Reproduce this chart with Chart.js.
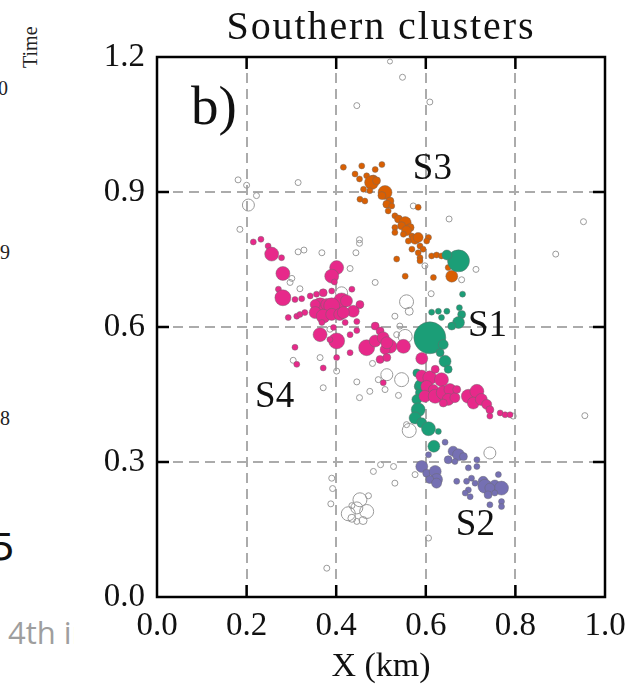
<!DOCTYPE html>
<html lang="en">
<head>
  <meta charset="UTF-8">
  <title>Southern clusters</title>
  <style>
    body {
      margin: 0;
      background: #ffffff;
    }
    #wrap {
      position: relative;
      width: 633px;
      height: 689px;
      overflow: hidden;
    }
    #chart {
      position: absolute;
      left: 0;
      top: 0;
    }
    /* cut-off bits of the neighbouring panels */
    .frag {
      position: absolute;
      font-family: "Liberation Serif", serif;
      color: #222;
      white-space: nowrap;
      line-height: 1;
    }
    .small { font-size: 20px; }
    .time {
      left: 20px;
      top: 68px;
      transform: rotate(-90deg);
      transform-origin: left top;
    }
    .big5 {
      left: -9px;
      top: 528px;
      font-family: "DejaVu Sans", sans-serif;
      font-size: 38px;
      color: #111;
    }
    .clip {
      position: absolute;
      left: 8px;
      top: 614px;
      width: 66px;
      overflow: hidden;
      white-space: nowrap;
      font-family: "Open Sans", sans-serif;
      font-size: 31px;
      line-height: 1.2;
      color: #9e9e9e;
    }
  </style>
  <script src="https://cdn.jsdelivr.net/npm/chart.js"></script>
</head>
<body>
  <div id="wrap">
    <span class="frag small time">Time</span>
    <span class="frag small" style="left:-2px;top:78px;">0</span>
    <span class="frag small" style="left:0px;top:242px;">9</span>
    <span class="frag small" style="left:0px;top:408px;">8</span>
    <span class="frag big5">5</span>
    <div class="clip">4th in</div>
    <canvas id="chart" width="633" height="689"></canvas>
  </div>

  <script>
    const xTicks = [0.0, 0.2, 0.4, 0.6, 0.8, 1.0];
    const yTicks = [0.0, 0.3, 0.6, 0.9, 1.2];

    // [x km, y km, size]
    const s1 = [
      [0.673, 0.747, 11], [0.647, 0.760, 5], [0.682, 0.673, 3], [0.675, 0.643, 3],
      [0.613, 0.633, 3], [0.628, 0.635, 3], [0.647, 0.635, 3], [0.635, 0.621, 3],
      [0.680, 0.628, 4], [0.673, 0.610, 6], [0.658, 0.602, 4], [0.609, 0.576, 16],
      [0.639, 0.561, 5], [0.632, 0.543, 4], [0.643, 0.524, 6], [0.650, 0.506, 4],
      [0.580, 0.498, 4], [0.583, 0.468, 4], [0.588, 0.454, 5], [0.580, 0.439, 5],
      [0.583, 0.416, 7], [0.576, 0.398, 6], [0.591, 0.387, 5], [0.606, 0.374, 7],
      [0.628, 0.368, 3], [0.618, 0.335, 6], [0.587, 0.472, 5]
    ];

    const s2 = [
      [0.643, 0.344, 3], [0.606, 0.316, 3], [0.661, 0.324, 5], [0.673, 0.316, 6],
      [0.684, 0.312, 4], [0.650, 0.305, 4], [0.665, 0.301, 3], [0.714, 0.305, 3],
      [0.714, 0.290, 3], [0.695, 0.287, 3], [0.591, 0.290, 6], [0.602, 0.275, 4],
      [0.621, 0.279, 6], [0.624, 0.261, 6], [0.609, 0.261, 4], [0.624, 0.253, 5],
      [0.702, 0.264, 3], [0.669, 0.257, 3], [0.691, 0.257, 3], [0.710, 0.253, 3],
      [0.728, 0.257, 5], [0.732, 0.246, 7], [0.754, 0.249, 5], [0.769, 0.242, 7],
      [0.762, 0.272, 3], [0.743, 0.242, 5], [0.739, 0.227, 4], [0.754, 0.231, 3],
      [0.695, 0.238, 3], [0.688, 0.231, 3], [0.699, 0.223, 3], [0.769, 0.212, 3],
      [0.743, 0.205, 3], [0.769, 0.201, 3]
    ];

    const s3 = [
      [0.416, 0.955, 3], [0.457, 0.958, 3], [0.502, 0.961, 3], [0.442, 0.940, 3],
      [0.468, 0.936, 3], [0.487, 0.950, 3], [0.452, 0.929, 3], [0.483, 0.929, 4],
      [0.479, 0.921, 7], [0.490, 0.925, 4], [0.461, 0.906, 3], [0.475, 0.903, 3],
      [0.509, 0.899, 7], [0.502, 0.892, 4], [0.453, 0.884, 3], [0.464, 0.880, 3],
      [0.520, 0.880, 4], [0.513, 0.873, 4], [0.524, 0.869, 3], [0.583, 0.866, 3],
      [0.516, 0.858, 3], [0.531, 0.847, 3], [0.539, 0.840, 4], [0.554, 0.832, 6],
      [0.546, 0.825, 4], [0.565, 0.821, 4], [0.531, 0.821, 3], [0.557, 0.814, 5],
      [0.531, 0.810, 3], [0.550, 0.806, 3], [0.569, 0.802, 3], [0.576, 0.795, 5],
      [0.583, 0.799, 5], [0.561, 0.791, 3], [0.606, 0.799, 3], [0.602, 0.791, 3],
      [0.587, 0.780, 3], [0.569, 0.773, 3], [0.594, 0.773, 3], [0.583, 0.765, 3],
      [0.587, 0.754, 3], [0.613, 0.758, 3], [0.624, 0.760, 3], [0.635, 0.758, 3],
      [0.535, 0.751, 3], [0.587, 0.747, 3], [0.658, 0.713, 6], [0.650, 0.732, 3],
      [0.554, 0.713, 3], [0.617, 0.710, 3]
    ];

    const s4 = [
      [0.215, 0.789, 3], [0.232, 0.795, 3], [0.248, 0.780, 3], [0.256, 0.762, 7],
      [0.278, 0.754, 3], [0.281, 0.719, 7], [0.401, 0.732, 7], [0.390, 0.713, 7],
      [0.396, 0.700, 3], [0.271, 0.684, 3], [0.281, 0.665, 8], [0.308, 0.661, 3],
      [0.323, 0.663, 3], [0.342, 0.669, 3], [0.356, 0.673, 3], [0.371, 0.676, 4],
      [0.390, 0.680, 3], [0.364, 0.647, 8], [0.412, 0.658, 8], [0.438, 0.635, 6],
      [0.293, 0.621, 3], [0.312, 0.624, 3], [0.353, 0.650, 5], [0.379, 0.650, 6],
      [0.390, 0.647, 8], [0.423, 0.658, 6], [0.453, 0.650, 4], [0.435, 0.684, 3],
      [0.353, 0.632, 6], [0.371, 0.624, 7], [0.390, 0.628, 6], [0.408, 0.628, 6],
      [0.416, 0.632, 6], [0.319, 0.628, 3], [0.330, 0.632, 3], [0.446, 0.612, 3],
      [0.420, 0.610, 3], [0.368, 0.610, 3], [0.394, 0.599, 3], [0.446, 0.592, 3],
      [0.487, 0.602, 4], [0.498, 0.591, 4], [0.364, 0.583, 7], [0.401, 0.569, 8],
      [0.386, 0.572, 3], [0.431, 0.583, 3], [0.468, 0.554, 8], [0.487, 0.569, 6],
      [0.505, 0.576, 6], [0.520, 0.557, 7], [0.509, 0.550, 5], [0.498, 0.528, 4],
      [0.513, 0.532, 4], [0.550, 0.557, 7], [0.431, 0.543, 3], [0.308, 0.555, 3],
      [0.312, 0.517, 3], [0.401, 0.532, 3], [0.371, 0.509, 3], [0.505, 0.476, 3],
      [0.513, 0.565, 6],
      [0.591, 0.530, 6], [0.591, 0.491, 6], [0.609, 0.487, 7], [0.602, 0.468, 6],
      [0.621, 0.506, 4], [0.635, 0.483, 7], [0.617, 0.461, 5], [0.598, 0.446, 6],
      [0.621, 0.446, 7], [0.639, 0.454, 7], [0.654, 0.461, 6], [0.650, 0.439, 6],
      [0.665, 0.443, 5], [0.639, 0.431, 4], [0.669, 0.461, 4], [0.695, 0.446, 7],
      [0.714, 0.457, 7], [0.706, 0.431, 6], [0.724, 0.439, 6], [0.736, 0.428, 5],
      [0.743, 0.416, 4], [0.743, 0.402, 3], [0.766, 0.409, 3], [0.777, 0.405, 3],
      [0.788, 0.405, 3]
    ];

    const unclustered = [
      [0.520, 1.190, 2.5], [0.548, 1.155, 3], [0.609, 1.100, 3], [0.446, 1.092, 3],
      [0.181, 0.927, 3], [0.200, 0.915, 3], [0.222, 0.892, 3], [0.204, 0.871, 6],
      [0.315, 0.921, 3], [0.185, 0.817, 3], [0.315, 0.767, 3], [0.328, 0.771, 3],
      [0.368, 0.765, 3], [0.452, 0.794, 3], [0.452, 0.786, 3], [0.444, 0.765, 3],
      [0.431, 0.730, 3], [0.487, 0.699, 3], [0.301, 0.708, 3], [0.297, 0.699, 3],
      [0.319, 0.685, 3], [0.452, 0.647, 3], [0.531, 0.624, 3], [0.572, 0.869, 3],
      [0.652, 0.840, 3], [0.952, 0.834, 3], [0.890, 0.762, 3], [0.712, 0.728, 3],
      [0.680, 0.705, 3], [0.598, 0.736, 3], [0.612, 0.674, 3], [0.557, 0.656, 7],
      [0.563, 0.635, 4], [0.412, 0.676, 6], [0.542, 0.602, 3], [0.535, 0.583, 3],
      [0.554, 0.579, 7], [0.386, 0.595, 3], [0.304, 0.526, 3], [0.364, 0.532, 3],
      [0.401, 0.502, 3], [0.371, 0.465, 3], [0.446, 0.478, 3], [0.494, 0.483, 3],
      [0.513, 0.494, 6], [0.546, 0.483, 7], [0.475, 0.457, 3], [0.452, 0.443, 3],
      [0.481, 0.519, 3], [0.509, 0.461, 3], [0.539, 0.448, 3], [0.563, 0.370, 7],
      [0.557, 0.383, 3], [0.528, 0.290, 3], [0.483, 0.279, 3], [0.499, 0.294, 3],
      [0.531, 0.253, 3], [0.392, 0.241, 3], [0.390, 0.264, 3], [0.388, 0.207, 3],
      [0.379, 0.064, 3], [0.453, 0.216, 7], [0.472, 0.225, 3], [0.468, 0.190, 7],
      [0.446, 0.198, 6], [0.427, 0.185, 7], [0.435, 0.175, 4], [0.446, 0.168, 3],
      [0.460, 0.170, 4], [0.435, 0.203, 3], [0.743, 0.320, 6], [0.576, 0.272, 3],
      [0.606, 0.131, 3], [0.955, 0.403, 3], [0.795, 0.402, 3]
    ];

    // cluster names placed in data coords (left edge, baseline)
    const clusterLabels = [
      { text: 'S1', x: 0.694, y: 0.579 },
      { text: 'S2', x: 0.667, y: 0.138 },
      { text: 'S3', x: 0.571, y: 0.929 },
      { text: 'S4', x: 0.219, y: 0.423 }
    ];

    const toPts = arr => arr.map(p => ({ x: p[0], y: p[1], r: p[2] }));
    const edge = 'rgba(105,105,105,0.55)';

    const frameAndText = {
      id: 'frameAndText',
      afterDraw(chart) {
        const ctx = chart.ctx;
        const a = chart.chartArea;
        const xs = chart.scales.x, ys = chart.scales.y;
        ctx.save();
        ctx.strokeStyle = '#000';
        ctx.lineWidth = 2.5;
        ctx.strokeRect(a.left, a.top, a.right - a.left, a.bottom - a.top);

        // inward tick marks on all four sides
        const tl = 12;
        ctx.beginPath();
        xTicks.slice(1, -1).forEach(v => {
          const px = xs.getPixelForValue(v);
          ctx.moveTo(px, a.bottom); ctx.lineTo(px, a.bottom - tl);
          ctx.moveTo(px, a.top); ctx.lineTo(px, a.top + tl);
        });
        yTicks.slice(1, -1).forEach(v => {
          const py = ys.getPixelForValue(v);
          ctx.moveTo(a.left, py); ctx.lineTo(a.left + tl, py);
          ctx.moveTo(a.right, py); ctx.lineTo(a.right - tl, py);
        });
        ctx.stroke();

        ctx.fillStyle = '#111';
        ctx.textBaseline = 'alphabetic';
        ctx.textAlign = 'center';
        ctx.font = '40px "Liberation Serif"';
        ctx.letterSpacing = '1.9px';
        ctx.fillText('Southern clusters', (a.left + a.right) / 2, 39);
        ctx.letterSpacing = '0px';

        ctx.textAlign = 'left';
        ctx.font = '55px "Liberation Serif"';
        ctx.fillText('b)', xs.getPixelForValue(0.076), ys.getPixelForValue(1.051));

        ctx.font = '37px "Liberation Serif"';
        clusterLabels.forEach(l => {
          ctx.fillText(l.text, xs.getPixelForValue(l.x), ys.getPixelForValue(l.y));
        });
        ctx.restore();
      }
    };

    const tickFont = { family: '"Liberation Serif", serif', size: 33 };

    new Chart(document.getElementById('chart'), {
      type: 'bubble',
      data: {
        datasets: [
          { label: 'S4', data: toPts(s4), backgroundColor: '#e7298a', borderColor: edge, borderWidth: 0.8 },
          { label: 'S1', data: toPts(s1), backgroundColor: '#1b9e77', borderColor: edge, borderWidth: 0.8 },
          { label: 'S3', data: toPts(s3), backgroundColor: '#d95f02', borderColor: edge, borderWidth: 0.8 },
          { label: 'S2', data: toPts(s2), backgroundColor: '#7570b3', borderColor: edge, borderWidth: 0.8 },
          { label: 'unclustered', data: toPts(unclustered), backgroundColor: 'rgba(255,255,255,0)', borderColor: '#9a9a9a', borderWidth: 1 }
        ]
      },
      options: {
        responsive: false,
        animation: false,
        events: [],
        layout: { padding: { top: 57, right: 28, left: 0, bottom: 0 } },
        plugins: {
          legend: { display: false },
          tooltip: { enabled: false }
        },
        scales: {
          x: {
            type: 'linear',
            min: 0,
            max: 1,
            afterBuildTicks: s => { s.ticks = xTicks.map(v => ({ value: v })); },
            afterFit: s => { s.height = 92; s.paddingLeft = 0; s.paddingRight = 0; },
            ticks: {
              padding: 10,
              color: '#111',
              font: tickFont,
              callback: v => v.toFixed(1)
            },
            grid: { color: '#ababab', lineWidth: 2, drawTicks: false },
            border: { display: false, dash: [10, 6] },
            title: {
              display: true,
              text: 'X (km)',
              color: '#111',
              font: { family: '"Liberation Serif", serif', size: 34 },
              padding: { top: 0, bottom: 2 }
            }
          },
          y: {
            type: 'linear',
            min: 0,
            max: 1.2,
            afterBuildTicks: s => { s.ticks = yTicks.map(v => ({ value: v })); },
            afterFit: s => { s.width = 157; },
            ticks: {
              padding: 12,
              color: '#111',
              font: tickFont,
              callback: v => v.toFixed(1)
            },
            grid: { color: '#ababab', lineWidth: 2, drawTicks: false },
            border: { display: false, dash: [10, 6] }
          }
        }
      },
      plugins: [frameAndText]
    });
  </script>
</body>
</html>
